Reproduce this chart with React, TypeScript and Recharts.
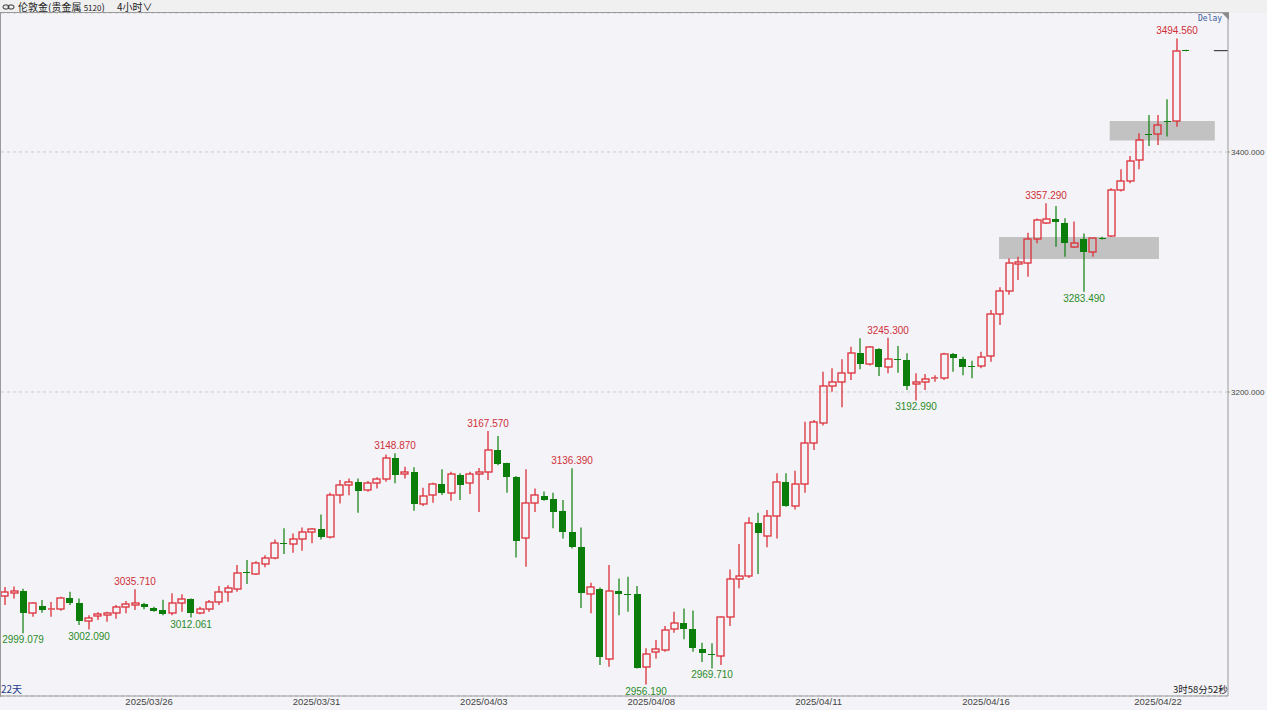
import React from 'react';
import {
  ComposedChart,
  Bar,
  XAxis,
  YAxis,
  CartesianGrid,
  ReferenceArea,
  ReferenceLine,
} from 'recharts';

// 4h candles, London gold
const opens = [
  3030.0, 3032.5, 3034.4, 3015.6, 3021.7, 3018.5, 3019.0, 3028.0, 3024.0, 3009.4,
  3013.3, 3014.0, 3015.6, 3021.1, 3022.5, 3023.3, 3019.7, 3018.3, 3015.6, 3024.0,
  3027.2, 3015.6, 3019.0, 3025.3, 3033.6, 3035.6, 3050.0, 3048.3, 3056.7, 3062.0,
  3074.5, 3073.3, 3077.2, 3083.6, 3085.6, 3079.4, 3114.2, 3122.5, 3125.3, 3118.0,
  3124.0, 3127.2, 3144.7, 3131.7, 3133.6, 3106.7, 3114.2, 3123.0, 3116.0, 3130.8,
  3124.0, 3131.7, 3133.6, 3151.7, 3140.6, 3129.0, 3078.0, 3107.8, 3113.3, 3110.6,
  3101.0, 3083.6, 3071.0, 3031.4, 3035.6, 2977.5, 3034.2, 3032.0, 3031.4, 2970.6,
  2983.0, 2985.0, 3002.2, 3007.2, 3002.2, 2985.6, 2981.7, 2980.0, 3012.2, 3043.9,
  3046.7, 3091.0, 3080.0, 3096.7, 3125.3, 3105.0, 3123.3, 3157.8, 3174.4, 3205.0,
  3208.6, 3216.0, 3232.8, 3223.3, 3235.8, 3221.0, 3227.5, 3226.7, 3207.0, 3208.0,
  3210.8, 3211.4, 3231.7, 3227.2, 3221.3, 3221.7, 3230.0, 3265.0, 3284.2, 3307.0,
  3307.2, 3327.2, 3341.0, 3344.0, 3341.0, 3321.0, 3327.5, 3316.4, 3328.3, 3330.0,
  3368.3, 3375.8, 3393.3, 3415.0, 3414.7, 3426.0, 3425.8, 3484.7,
];
const highs = [
  3037.5, 3038.0, 3036.0, 3024.8, 3026.7, 3025.0, 3029.4, 3033.6, 3028.0, 3014.0,
  3016.4, 3016.9, 3022.5, 3025.8, 3035.71, 3024.4, 3021.0, 3027.0, 3032.3, 3031.4,
  3028.0, 3021.0, 3026.7, 3038.3, 3039.0, 3055.8, 3060.0, 3059.0, 3064.0, 3077.2,
  3086.4, 3082.0, 3087.0, 3086.4, 3098.0, 3116.0, 3126.7, 3128.0, 3128.0, 3125.8,
  3129.0, 3148.0, 3148.87, 3137.8, 3137.2, 3120.3, 3124.4, 3135.6, 3133.6, 3132.2,
  3133.6, 3136.7, 3167.57, 3163.3, 3141.0, 3130.0, 3135.6, 3119.7, 3117.0, 3116.0,
  3110.0, 3136.39, 3087.2, 3041.0, 3037.2, 3055.8, 3044.7, 3046.0, 3038.3, 2986.4,
  2993.3, 3005.0, 3017.0, 3019.7, 3018.0, 2991.0, 2990.6, 3013.0, 3052.2, 3073.3,
  3095.6, 3099.4, 3101.7, 3132.2, 3132.2, 3134.4, 3175.3, 3176.7, 3216.9, 3219.7,
  3227.2, 3237.8, 3244.7, 3238.3, 3236.5, 3245.3, 3238.3, 3232.2, 3215.6, 3215.0,
  3214.0, 3232.8, 3232.5, 3229.4, 3226.0, 3233.6, 3268.3, 3287.2, 3311.4, 3312.8,
  3332.8, 3344.5, 3357.29, 3355.0, 3344.7, 3342.0, 3332.0, 3328.0, 3329.4, 3369.7,
  3385.6, 3396.7, 3415.6, 3430.8, 3430.8, 3444.0, 3494.56, 3485.2,
];
const lows = [
  3022.5, 3028.0, 2999.079, 3012.8, 3016.0, 3012.8, 3017.8, 3022.5, 3005.8, 3002.09,
  3010.0, 3008.6, 3011.0, 3015.6, 3018.3, 3019.0, 3017.0, 3014.0, 3014.0, 3017.0,
  3012.061, 3014.8, 3017.0, 3022.5, 3025.3, 3033.6, 3040.0, 3047.5, 3054.0, 3060.6,
  3065.0, 3066.0, 3067.8, 3074.0, 3077.2, 3078.0, 3107.2, 3114.0, 3099.4, 3116.9,
  3119.7, 3125.3, 3124.0, 3128.0, 3101.0, 3105.0, 3107.8, 3114.2, 3109.4, 3110.0,
  3115.0, 3100.0, 3126.7, 3139.0, 3116.0, 3062.2, 3054.4, 3100.0, 3109.4, 3086.4,
  3078.0, 3069.7, 3020.0, 3015.6, 2972.5, 2971.0, 3014.0, 3017.0, 2969.7, 2956.19,
  2978.0, 2983.6, 2999.4, 2994.0, 2983.6, 2975.0, 2969.71, 2972.5, 3005.0, 3036.4,
  3045.0, 3048.3, 3070.6, 3078.0, 3104.4, 3102.2, 3116.0, 3151.7, 3172.0, 3200.3,
  3187.2, 3210.0, 3219.0, 3222.0, 3213.3, 3215.6, 3216.0, 3201.7, 3192.99, 3201.7,
  3208.6, 3210.0, 3216.9, 3214.0, 3211.4, 3219.7, 3225.3, 3255.8, 3281.0, 3293.3,
  3296.0, 3324.0, 3340.0, 3321.0, 3312.8, 3320.0, 3283.49, 3312.8, 3327.0, 3329.4,
  3367.0, 3374.0, 3385.6, 3405.0, 3405.8, 3412.8, 3421.0, 3484.0,
];
const closes = [
  3033.0, 3034.0, 3015.6, 3024.0, 3018.3, 3019.2, 3028.6, 3024.4, 3009.4, 3011.4,
  3014.7, 3015.5, 3021.0, 3023.0, 3024.0, 3020.6, 3017.8, 3015.0, 3024.0, 3027.2,
  3015.6, 3019.0, 3025.3, 3033.6, 3036.4, 3049.4, 3049.0, 3057.2, 3062.0, 3074.4,
  3074.0, 3077.2, 3083.6, 3085.6, 3079.4, 3114.2, 3122.5, 3125.3, 3117.5, 3124.0,
  3127.2, 3144.7, 3130.8, 3133.6, 3106.7, 3113.3, 3123.0, 3116.0, 3131.7, 3122.5,
  3131.7, 3133.6, 3151.7, 3140.0, 3129.0, 3076.0, 3107.8, 3114.2, 3110.0, 3100.0,
  3083.6, 3070.6, 3032.2, 3037.8, 2979.4, 3034.4, 3031.7, 3031.6, 2970.3, 2981.7,
  2985.6, 3001.7, 3007.8, 3002.5, 2986.4, 2982.8, 2980.6, 3012.2, 3043.9, 3047.0,
  3091.0, 3082.8, 3096.7, 3125.3, 3105.0, 3123.3, 3157.8, 3175.3, 3205.0, 3208.6,
  3215.6, 3232.8, 3223.3, 3237.2, 3221.0, 3227.2, 3227.0, 3205.3, 3208.0, 3211.0,
  3211.6, 3231.7, 3228.0, 3221.0, 3221.0, 3229.4, 3265.0, 3284.2, 3307.2, 3308.0,
  3327.2, 3343.3, 3344.0, 3341.5, 3324.0, 3324.4, 3316.4, 3328.0, 3328.0, 3368.3,
  3375.8, 3392.5, 3410.0, 3414.5, 3422.5, 3425.5, 3484.2, 3484.4,
];

// candle indexes carrying the high / low price tags
const highMarks = [14, 42, 52, 61, 95, 112, 126];
const lowMarks = [2, 9, 20, 69, 76, 98, 116];

// date labels sit on day boundaries (6 candles a day)
const dateTicks = [15.5, 33.5, 51.5, 69.5, 87.5, 105.5, 124];
const dateLabels = ['2025/03/26', '2025/03/31', '2025/04/03', '2025/04/08', '2025/04/11', '2025/04/16', '2025/04/22'];
const priceTicks = [3200, 3400];

// gray zones drawn on the chart
const zones = [
  { x1: 106.9, x2: 124.1, y1: 3310.8, y2: 3329.2 },
  { x1: 118.8, x2: 130.1, y1: 3409.5, y2: 3425.8 },
];

const lastPrice = 3484.4;

const RED = '#dc2f38';
const GREEN = '#0b7d0b';
const FONT = '"Liberation Sans", Arial, sans-serif';

const data = opens.map((o, i) => ({
  i,
  o,
  h: highs[i],
  l: lows[i],
  c: closes[i],
  range: [lows[i], highs[i]],
}));

const Candle = (props: any) => {
  const { x, y, width, height, payload } = props;
  if (payload == null || payload.o == null) return null;
  const { o, h, l, c, i } = payload;
  const span = h - l || 1;
  const py = (v: number) => y + ((h - v) / span) * height;
  // soft (anti-aliased) strokes like the original platform
  const cx = Math.round(x + width / 2);
  const up = c >= o;
  const col = up ? RED : GREEN;
  const top = Math.round(py(Math.max(o, c)));
  const bot = Math.round(py(Math.min(o, c)));
  const yh = py(h);
  const yl = py(l);
  const left = Math.round(x);
  const w = Math.round(width);
  const bodyH = Math.max(bot - top, 1);

  return (
    <g>
      {up ? (
        <>
          <line x1={cx} x2={cx} y1={yh} y2={top} stroke={col} strokeWidth={1.3} />
          <line x1={cx} x2={cx} y1={top + bodyH} y2={yl} stroke={col} strokeWidth={1.3} />
          {bodyH > 1 ? (
            <rect x={left} y={top} width={w} height={bodyH} fill="none" stroke={col} strokeWidth={1.3} />
          ) : (
            <line x1={left} x2={left + w} y1={top} y2={top} stroke={col} strokeWidth={1.3} />
          )}
        </>
      ) : (
        <>
          <line x1={cx} x2={cx} y1={yh} y2={yl} stroke={col} strokeWidth={1.2} />
          <rect x={left} y={top} width={w} height={bodyH} fill={col} />
        </>
      )}
      {highMarks.includes(i) && (
        <text x={cx} y={yh - 4} textAnchor="middle" fontSize={10} fontFamily={FONT} fill="#cf2f38">
          {h.toFixed(3)}
        </text>
      )}
      {lowMarks.includes(i) && (
        <text x={cx} y={yl + 10} textAnchor="middle" fontSize={10} fontFamily={FONT} fill="#2b8a2b">
          {l.toFixed(3)}
        </text>
      )}
    </g>
  );
};

export default function App() {
  return (
    <div
      style={{
        position: 'fixed',
        left: 0,
        top: 0,
        width: 1267,
        height: 710,
        background: '#f4f4f8',
        overflow: 'hidden',
        fontFamily: FONT,
      }}
    >
      {/* header */}
      <div
        style={{
          position: 'absolute',
          left: 0,
          top: 0,
          width: 1267,
          height: 13,
          background: '#f0f0f0',
          fontSize: 10,
          lineHeight: '13px',
          color: '#222',
          fontFamily: '"Noto Sans CJK SC", sans-serif',
          whiteSpace: 'nowrap',
        }}
      >
        <svg width={14} height={10} style={{ position: 'absolute', left: 2, top: 2 }}>
          <rect x={1} y={3} width={6} height={4} rx={2} fill="none" stroke="#333" />
          <rect x={6} y={3} width={6} height={4} rx={2} fill="none" stroke="#333" />
        </svg>
        <span style={{ position: 'absolute', left: 18, top: 0, lineHeight: '13px' }}>
          伦敦金(贵金属 <span style={{ fontSize: 8 }}>5120</span>)
        </span>
        <span style={{ position: 'absolute', left: 117, top: 0, lineHeight: '13px' }}>4小时∨</span>
      </div>

      <div style={{ position: 'absolute', left: 0, top: 13 }}>
        <ComposedChart width={1267} height={697} data={data} margin={{ top: 0, right: 0, left: 1, bottom: 0 }}>
          <CartesianGrid horizontal vertical={false} stroke="#c9c9cf" strokeDasharray="3 3" />
          {zones.map((z, k) => (
            <ReferenceArea key={k} x1={z.x1} x2={z.x2} y1={z.y1} y2={z.y2} fill="#c2c2c2" fillOpacity={1} stroke="none" />
          ))}
          <XAxis
            dataKey="i"
            type="number"
            domain={[-0.43, 131.52]}
            allowDataOverflow
            ticks={dateTicks}
            interval={0}
            tickFormatter={(v) => dateLabels[dateTicks.indexOf(v)] ?? ''}
            height={14}
            tickLine={false}
            tickSize={1}
            tickMargin={1}
            axisLine={{ stroke: '#9a9a9a' }}
            tick={{ fontSize: 9.5, fill: '#444', fontFamily: FONT }}
          />
          <YAxis
            orientation="right"
            width={39}
            domain={[2946.7, 3515.8]}
            allowDataOverflow
            ticks={priceTicks}
            tickFormatter={(v) => Number(v).toFixed(3)}
            tickSize={2}
            tickMargin={1}
            axisLine={{ stroke: '#9a9a9a' }}
            tickLine={{ stroke: '#9a9a9a' }}
            tick={{ fontSize: 8, fill: '#444', fontFamily: FONT }}
          />
          <Bar dataKey="range" barSize={7} shape={<Candle />} isAnimationActive={false} />
          <ReferenceLine
            segment={[{ x: 130, y: lastPrice }, { x: 131.52, y: lastPrice }]}
            stroke="#222"
            strokeWidth={1}
          />
        </ComposedChart>
      </div>

      {/* frame left/top */}
      <div
        style={{
          position: 'absolute',
          left: 0,
          top: 12,
          width: 1228,
          height: 684,
          borderLeft: '1px solid #9a9a9a',
          borderTop: '1px solid #9a9a9a',
          pointerEvents: 'none',
        }}
      />
      <svg width={7} height={7} style={{ position: 'absolute', left: 1222, top: 13 }}>
        <polygon points="0,0 7,0 7,7" fill="#8a8a8a" />
      </svg>
      <div
        style={{
          position: 'absolute',
          left: 1198,
          top: 14,
          fontSize: 8,
          color: '#3b5a9a',
          fontFamily: '"DejaVu Sans Mono", monospace',
        }}
      >
        Delay
      </div>
      <div style={{ position: 'absolute', left: 1, top: 683, fontSize: 10, lineHeight: '12px', color: '#1e3a8a', fontFamily: '"Noto Sans CJK SC", sans-serif' }}>
        22天
      </div>
      <div style={{ position: 'absolute', left: 1173, top: 683, fontSize: 9.5, lineHeight: '12px', color: '#222', fontFamily: '"Noto Sans CJK SC", sans-serif' }}>
        3时58分52秒
      </div>
    </div>
  );
}
